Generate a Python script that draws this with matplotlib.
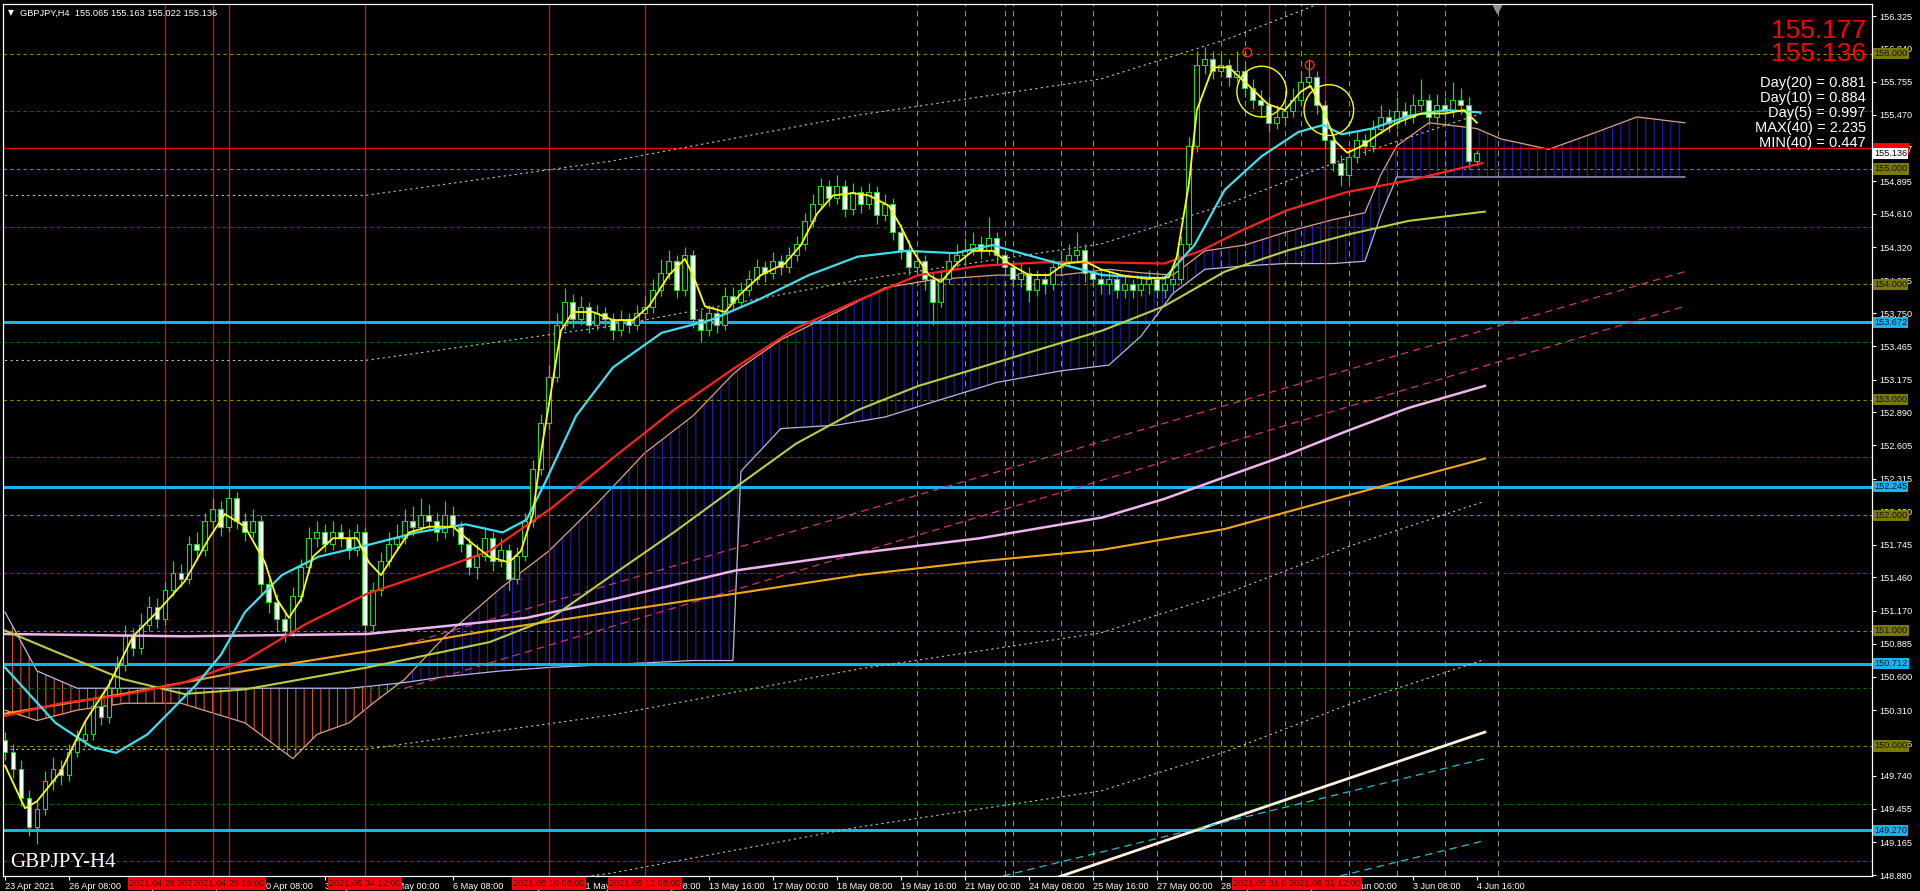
import numpy as np
import matplotlib.pyplot as plt
from matplotlib.patches import Ellipse
import matplotlib.transforms as mtransforms

plt.rcParams['font.family'] = ['Liberation Sans', 'DejaVu Sans']

# ---- H4 bars, 23 Apr 2021 00:00 .. 4 Jun 2021 16:00 (bar index 0..184)
first_open = 150.05
closes = [
    149.95, 149.80, 149.55, 149.30, 149.45, 149.70, 149.80, 149.75, 149.95, 150.05,
    150.10, 150.35, 150.25, 150.50, 150.70, 150.95, 150.85, 151.05, 151.20, 151.10,
    151.35, 151.50, 151.45, 151.75, 151.70, 151.95, 152.05, 151.90, 152.15, 151.95,
    151.85, 151.95, 151.40, 151.25, 151.10, 151.00, 151.30, 151.55, 151.80, 151.85,
    151.75, 151.85, 151.80, 151.70, 151.85, 151.05, 151.35, 151.60, 151.75, 151.80,
    151.95, 151.90, 152.00, 151.95, 151.85, 152.00, 151.90, 151.75, 151.55, 151.65,
    151.80, 151.60, 151.70, 151.45, 151.65, 151.95, 152.40, 152.80, 153.20, 153.65,
    153.85, 153.70, 153.80, 153.65, 153.75, 153.70, 153.60, 153.70, 153.65, 153.75,
    153.80, 153.95, 154.10, 154.20, 153.95, 154.25, 153.70, 153.60, 153.75, 153.65,
    153.90, 153.85, 153.95, 154.05, 154.15, 154.10, 154.20, 154.15, 154.25, 154.35,
    154.55, 154.70, 154.85, 154.75, 154.85, 154.65, 154.80, 154.70, 154.80, 154.60,
    154.70, 154.45, 154.30, 154.15, 154.20, 154.05, 153.85, 154.05, 154.20, 154.25,
    154.30, 154.35, 154.30, 154.40, 154.25, 154.15, 154.05, 154.10, 153.95, 154.05,
    154.00, 154.15, 154.20, 154.25, 154.30, 154.10, 154.05, 154.00, 154.05, 153.95,
    154.00, 153.95, 154.00, 154.05, 153.95, 154.00, 154.05, 154.35, 155.20, 155.90,
    155.95, 155.85, 155.90, 155.80, 155.85, 155.70, 155.60, 155.55, 155.40, 155.45,
    155.50, 155.60, 155.75, 155.80, 155.55, 155.25, 155.05, 154.95, 155.10, 155.25,
    155.20, 155.35, 155.45, 155.40, 155.50, 155.45, 155.55, 155.60, 155.45, 155.55,
    155.50, 155.60, 155.55, 155.065, 155.136,
]
highs = [
    150.12, 150.02, 149.88, 149.62, 149.52, 149.78, 149.90, 149.88, 150.02, 150.14,
    150.22, 150.42, 150.45, 150.58, 150.78, 151.05, 151.02, 151.15, 151.30, 151.28,
    151.42, 151.60, 151.58, 151.82, 151.85, 152.02, 152.15, 152.12, 152.25, 152.20,
    152.02, 152.05, 152.00, 151.48, 151.32, 151.18, 151.38, 151.62, 151.90, 151.95,
    151.92, 151.95, 151.92, 151.88, 151.92, 151.90, 151.42, 151.68, 151.85, 151.92,
    152.05, 152.08, 152.15, 152.10, 152.02, 152.12, 152.08, 151.95, 151.80, 151.75,
    151.90, 151.85, 151.80, 151.75, 151.72, 152.02, 152.48, 152.88, 153.30, 153.75,
    153.97, 153.92, 153.90, 153.85, 153.82, 153.80, 153.75, 153.78, 153.75, 153.82,
    153.90, 154.05, 154.22, 154.30, 154.25, 154.32, 154.30, 153.78, 153.82, 153.80,
    153.98, 153.98, 154.02, 154.12, 154.22, 154.20, 154.28, 154.25, 154.32, 154.42,
    154.62, 154.78, 154.92, 154.90, 154.95, 154.90, 154.88, 154.85, 154.88, 154.85,
    154.78, 154.75, 154.52, 154.38, 154.30, 154.25, 154.10, 154.12, 154.28, 154.35,
    154.40, 154.45, 154.42, 154.58, 154.45, 154.30, 154.20, 154.18, 154.15, 154.12,
    154.10, 154.22, 154.30, 154.35, 154.45, 154.35, 154.15, 154.12, 154.12, 154.10,
    154.08, 154.05, 154.08, 154.12, 154.10, 154.08, 154.12, 154.42, 155.28, 156.02,
    156.06, 156.02, 156.00, 155.95, 156.02, 155.90, 155.78, 155.68, 155.62, 155.55,
    155.60, 155.70, 155.85, 155.95, 155.85, 155.60, 155.30, 155.12, 155.18, 155.32,
    155.30, 155.42, 155.55, 155.52, 155.62, 155.58, 155.65, 155.78, 155.65, 155.65,
    155.62, 155.75, 155.70, 155.62, 155.163,
]
lows = [
    149.88, 149.72, 149.48, 149.22, 149.15, 149.40, 149.62, 149.66, 149.70, 149.90,
    150.00, 150.05, 150.18, 150.20, 150.45, 150.65, 150.78, 150.80, 151.00, 151.02,
    151.05, 151.30, 151.38, 151.40, 151.62, 151.65, 151.88, 151.82, 151.85, 151.88,
    151.78, 151.80, 151.32, 151.15, 151.00, 150.90, 150.95, 151.25, 151.50, 151.72,
    151.68, 151.70, 151.72, 151.62, 151.65, 150.98, 151.00, 151.30, 151.55, 151.70,
    151.75, 151.82, 151.85, 151.88, 151.78, 151.80, 151.82, 151.68, 151.48, 151.45,
    151.60, 151.52, 151.55, 151.35, 151.40, 151.60, 151.90, 152.35, 152.75, 153.15,
    153.60, 153.62, 153.65, 153.58, 153.60, 153.62, 153.52, 153.55, 153.58, 153.60,
    153.70, 153.75, 153.90, 154.05, 153.88, 153.90, 153.62, 153.50, 153.55, 153.58,
    153.60, 153.78, 153.80, 153.90, 154.00, 154.02, 154.05, 154.08, 154.10, 154.20,
    154.30, 154.50, 154.65, 154.68, 154.70, 154.58, 154.60, 154.62, 154.65, 154.52,
    154.55, 154.38, 154.22, 154.08, 154.10, 153.95, 153.65, 153.80, 154.00, 154.15,
    154.18, 154.25, 154.22, 154.25, 154.18, 154.08, 153.98, 153.98, 153.85, 153.90,
    153.92, 153.95, 154.10, 154.15, 154.20, 154.02, 153.98, 153.92, 153.92, 153.88,
    153.88, 153.88, 153.90, 153.92, 153.88, 153.88, 153.92, 154.00, 154.30, 155.15,
    155.82, 155.78, 155.80, 155.72, 155.75, 155.62, 155.52, 155.45, 155.32, 155.35,
    155.38, 155.45, 155.55, 155.70, 155.48, 155.18, 154.98, 154.85, 154.90, 155.05,
    155.12, 155.15, 155.30, 155.32, 155.35, 155.38, 155.40, 155.50, 155.38, 155.40,
    155.42, 155.45, 155.48, 155.00, 155.022,
]

# ---- indicator lines, read as (bar, price) knots
ma_fast_bar = [0, 2.5, 4, 7, 10, 13, 16, 19, 22.5, 25.5, 27.5, 30, 32.5, 34, 35.5, 37, 38.5, 41, 44,
               45.5, 47, 48.5, 50.5, 53, 56, 58.5, 60.5, 63, 64.5, 66, 67, 68.5, 69.5, 71, 73.5, 76,
               78.5, 80.5, 83, 85, 86, 87.5, 90, 92, 94.5, 97.5, 99.5, 101.5, 103.5, 106, 108,
               110.5, 112, 113.5, 115.5, 117, 119, 121, 123.5, 125.5, 128, 130.5, 132.5, 135, 137,
               139.5, 142.5, 145.5, 146.5, 148, 149, 151, 153, 155.5, 157.9, 160, 162, 163.2,
               164.8, 166.3, 167.8, 169.4, 171.7, 174, 177, 180, 182.4, 184]
ma_fast = [149.83, 149.46, 149.52, 149.78, 150.21, 150.53, 150.95, 151.16, 151.43, 151.80, 152.01,
           151.90, 151.59, 151.27, 151.11, 151.27, 151.64, 151.80, 151.80, 151.59, 151.48, 151.64,
           151.85, 151.90, 151.90, 151.75, 151.64, 151.59, 151.69, 152.01, 152.54, 153.17, 153.60,
           153.76, 153.76, 153.69, 153.69, 153.81, 154.08, 154.22, 154.08, 153.81, 153.76, 153.92,
           154.08, 154.18, 154.34, 154.61, 154.77, 154.79, 154.77, 154.68, 154.50, 154.29, 154.08,
           154.02, 154.18, 154.29, 154.29, 154.18, 154.08, 154.08, 154.18, 154.20, 154.13, 154.08,
           154.05, 154.06, 154.24, 154.87, 155.51, 155.88, 155.88, 155.72, 155.56, 155.51, 155.67,
           155.72, 155.51, 155.24, 155.14, 155.19, 155.30, 155.40, 155.48, 155.48, 155.51, 155.40]

ma_mid_bar = [0, 6.3, 10.9, 13.9, 17.8, 20.8, 23.9, 27, 30, 34.6, 39.2, 45.3, 51.5, 57.6, 62.2, 65.2,
              67.5, 71.4, 76, 82.1, 88.2, 94.3, 100.5, 106.6, 112.7, 118.8, 123.4, 129.6, 137.2,
              144.9, 148.7, 152.5, 157.1, 161.7, 164.8, 167.1, 170.9, 175.5, 180.1, 184.4]
ma_mid = [150.68, 150.20, 149.99, 149.94, 150.10, 150.31, 150.53, 150.79, 151.16, 151.48, 151.64,
          151.74, 151.85, 151.92, 151.85, 151.96, 152.28, 152.86, 153.28, 153.58, 153.69, 153.87,
          154.08, 154.24, 154.29, 154.27, 154.34, 154.22, 154.08, 154.05, 154.34, 154.82, 155.11,
          155.32, 155.38, 155.30, 155.35, 155.46, 155.51, 155.49]

ma_red_bar = [0, 7, 14.7, 22.4, 30, 37.7, 45.3, 53, 60.6, 68.3, 75.9, 83.6, 91.3, 98.9, 106.6,
              114.2, 121.9, 129.5, 137.2, 144.9, 149.5, 154.1, 160.2, 167.8, 175.5, 184.7]
ma_red = [150.26, 150.37, 150.44, 150.55, 150.74, 151.06, 151.32, 151.50, 151.69, 152.06, 152.49,
          152.91, 153.28, 153.62, 153.86, 154.08, 154.16, 154.19, 154.19, 154.18, 154.29, 154.45,
          154.64, 154.80, 154.90, 155.05]

ma_olive_bar = [0, 5.5, 14.7, 22.4, 30, 45.3, 60.6, 68.3, 75.9, 83.6, 91.3, 98.9, 106.6, 114.2,
                121.9, 129.5, 137.2, 144.9, 152.5, 160.2, 167.8, 175.5, 185]
ma_olive = [151.00, 150.84, 150.58, 150.45, 150.49, 150.68, 150.90, 151.11, 151.48, 151.85, 152.24,
            152.62, 152.91, 153.12, 153.28, 153.44, 153.60, 153.81, 154.11, 154.29, 154.43, 154.55,
            154.63]

ma_pink_bar = [0, 22.4, 45.3, 65.2, 75.9, 91.3, 106.6, 121.9, 137.2, 144.9, 152.5, 160.2, 167.8,
               175.5, 185]
ma_pink = [150.97, 150.95, 150.97, 151.11, 151.27, 151.52, 151.67, 151.80, 151.98, 152.14, 152.33,
           152.52, 152.73, 152.93, 153.12]

ma_orange_bar = [0, 14.7, 30, 45.3, 60.6, 75.9, 91.3, 106.6, 121.9, 137.2, 152.5, 167.8, 185]
ma_orange = [150.28, 150.45, 150.65, 150.82, 151.00, 151.16, 151.32, 151.48, 151.60, 151.70,
             151.88, 152.17, 152.49]

# ichimoku cloud (span A / span B), projected 26 bars ahead
cloud_bar = [0, 4, 9, 15, 22, 30, 36, 39, 43, 46, 50, 55, 62, 68, 74, 80, 86, 91, 92, 97, 104,
             110, 116, 124, 132, 138, 142, 146, 150, 155, 160, 166, 170, 172, 174, 178, 184, 187,
             193, 199, 204, 210]
span_a = [150.31, 150.22, 150.31, 150.37, 150.37, 150.20, 149.89, 150.10, 150.20, 150.37, 150.58,
          150.95, 151.37, 151.69, 152.10, 152.54, 152.86, 153.22, 153.28, 153.52, 153.76, 153.97,
          154.04, 154.08, 154.08, 154.13, 154.10, 154.08, 154.29, 154.34, 154.45, 154.56, 154.62,
          154.95, 155.20, 155.40, 155.35, 155.26, 155.17, 155.32, 155.45, 155.40]
span_b = [151.16, 150.65, 150.50, 150.50, 150.50, 150.50, 150.50, 150.50, 150.50, 150.52, 150.55,
          150.60, 150.65, 150.68, 150.70, 150.72, 150.74, 150.74, 152.38, 152.75, 152.78, 152.85,
          152.98, 153.15, 153.25, 153.30, 153.55, 153.92, 154.13, 154.16, 154.18, 154.18, 154.20,
          154.60, 154.93, 154.93, 154.93, 154.93, 154.93, 154.93, 154.93, 154.93]

# gray dotted envelopes
env_bar = [0, 45, 76, 107, 137, 153, 168, 185]
env_up2 = [154.77, 154.77, 155.07, 155.47, 155.78, 156.13, 156.53, 156.92]
env_up1 = [153.34, 153.34, 153.64, 154.04, 154.35, 154.70, 155.10, 155.49]
env_dn1 = [149.97, 149.97, 150.27, 150.67, 150.98, 151.33, 151.73, 152.12]
env_dn2 = [148.60, 148.60, 148.90, 149.30, 149.61, 149.96, 150.36, 150.75]

# magenta dashed channel and bottom channel lines (bar, price endpoints)
mag_bar = [50, 210]
mag_up = [150.88, 154.11]
mag_dn = [150.50, 153.81]
low_white_bar = [126, 185]
low_white = [148.73, 150.12]
low_cyan_a_bar = [124.75, 185]
low_cyan_a = [148.873, 149.89]
low_cyan_b_bar = [166.9, 185]
low_cyan_b = [148.873, 149.18]

# horizontal levels
cyan_levels = [153.672, 152.245, 150.712, 149.270]
round_levels = [156.0, 155.0, 154.0, 153.0, 152.0, 151.0, 150.0]
half_levels = [155.5, 154.5, 153.5, 152.5, 151.5, 150.5, 149.5, 149.0]
red_level = 155.177
bid = 155.136

# vertical markers
red_vlines = [20, 26, 28, 45, 68, 80, 158, 165]
red_vlabels = ['2021.04.28 08:00', '2021.04.29 08:00', '2021.04.29 16:00', '2021.05.04 12:00',
               '2021.05.10 08:00', '2021.05.12 08:00', '2021.05.31 08:00', '2021.06.01 12:00']
gray_vlines = [114, 120, 125, 126, 132, 136, 144, 152, 155, 160, 162, 168, 174, 180, 186.6]

# yellow circle objects and red markers
circle_bar = [157.1, 165.5]
circle_price = [155.67, 155.51]
marker_bar = [155.3, 163.1]
marker_price = [156.01, 155.90]

# axis ticks
ytick_vals = [156.325, 156.040, 155.755, 155.470, 155.177, 154.895, 154.610, 154.320, 154.035,
              153.750, 153.465, 153.175, 152.890, 152.605, 152.315, 152.030, 151.745, 151.460,
              151.170, 150.885, 150.600, 150.310, 150.025, 149.740, 149.455, 149.165, 148.880]
xtick_bars = list(range(0, 185, 8))
xtick_labels = ['23 Apr 2021', '26 Apr 08:00', '27 Apr 16:00', '29 Apr 00:00', '30 Apr 08:00',
                '3 May 16:00', '5 May 00:00', '6 May 08:00', '7 May 16:00', '11 May 00:00',
                '12 May 08:00', '13 May 16:00', '17 May 00:00', '18 May 08:00', '19 May 16:00',
                '21 May 00:00', '24 May 08:00', '25 May 16:00', '27 May 00:00', '28 May 08:00',
                '31 May 16:00', '2 Jun 00:00', '3 Jun 08:00', '4 Jun 16:00']

# ---------------------------------------------------------------------------
W, H = 1920, 891
fig = plt.figure(figsize=(W / 100, H / 100), dpi=100)
fig.patch.set_facecolor('black')
ax = fig.add_axes([3 / W, 15 / H, 1869 / W, 872 / H])
ax.set_facecolor('black')
ax.set_xlim(-0.25, 233.4)
ax.set_ylim(148.873, 156.429)

# cloud hatching
cb = np.array(cloud_bar, float)
sa = np.array(span_a)
sb = np.array(span_b)
plt.rcParams['hatch.linewidth'] = 0.8
ax.fill_between(cb, sa, sb, where=sa >= sb, interpolate=True, facecolor='none',
                edgecolor='#1e1eb4', hatch='||', linewidth=0, zorder=1)
ax.fill_between(cb, sa, sb, where=sa < sb, interpolate=True, facecolor='none',
                edgecolor='#d2502a', hatch='||', linewidth=0, zorder=1)
ax.plot(cb, sa, color='#e0a080', lw=0.9, zorder=1.2)
ax.plot(cb, sb, color='#b8b8e8', lw=0.9, zorder=1.2)

# level lines
for lv in round_levels:
    ax.axhline(lv, color='#8c8c00', lw=0.8, ls=(0, (3, 3)), zorder=1.1)
for lv in half_levels:
    ax.axhline(lv, color='#006e00', lw=0.8, ls=(0, (3, 3)), zorder=1.1)
for gx in gray_vlines:
    ax.axvline(gx, color='#8a8a8a', lw=0.8, ls=(0, (5, 4)), zorder=1.1)
for rx in red_vlines:
    ax.axvline(rx, color='#ff0000', lw=0.9, zorder=1.3)
for lv in cyan_levels:
    ax.axhline(lv, color='#14b4ec', lw=2.2, zorder=1.4)
ax.axhline(red_level, color='#ff0000', lw=0.9, zorder=1.4)

# envelopes and channels
for env in (env_up2, env_up1, env_dn1, env_dn2):
    ax.plot(env_bar, env, color='#bfbfbf', lw=0.8, ls=(0, (2, 3)), zorder=1.5)
ax.plot(mag_bar, mag_up, color='#d0307a', lw=0.9, ls=(0, (6, 4)), zorder=1.5)
ax.plot(mag_bar, mag_dn, color='#d0307a', lw=0.9, ls=(0, (6, 4)), zorder=1.5)
ax.plot(low_white_bar, low_white, color='#fff0e0', lw=2.0, zorder=1.6)
ax.plot(low_cyan_a_bar, low_cyan_a, color='#20c0d0', lw=0.9, ls=(0, (6, 4)), zorder=1.6)
ax.plot(low_cyan_b_bar, low_cyan_b, color='#20c0d0', lw=0.9, ls=(0, (6, 4)), zorder=1.6)

# candles
c = np.array(closes)
o = np.concatenate([[first_open], c[:-1]])
idx = np.arange(len(c))
up = c >= o
green = '#2fd02f'
ax.vlines(idx, lows, highs, color=green, lw=0.9, zorder=2)
body = np.maximum(np.abs(c - o), 0.006)
ax.bar(idx[up], body[up], bottom=np.minimum(o, c)[up], width=0.62, color='black',
       edgecolor=green, linewidth=0.8, zorder=2.1)
ax.bar(idx[~up], body[~up], bottom=np.minimum(o, c)[~up], width=0.62, color='white',
       edgecolor=green, linewidth=0.8, zorder=2.1)

# moving averages
ax.plot(ma_orange_bar, ma_orange, color='#f0a818', lw=1.5, zorder=3)
ax.plot(ma_pink_bar, ma_pink, color='#f0b4f0', lw=1.8, zorder=3)
ax.plot(ma_olive_bar, ma_olive, color='#b8d040', lw=1.5, zorder=3)
ax.plot(ma_red_bar, ma_red, color='#ff2020', lw=1.6, zorder=3)
ax.plot(ma_mid_bar, ma_mid, color='#3ce0f0', lw=1.6, zorder=3)
ax.plot(ma_fast_bar, ma_fast, color='#ffff00', lw=1.3, zorder=3.1)

for bx, py in zip(circle_bar, circle_price):
    ax.add_patch(Ellipse((bx, py), 6.2, 0.44, fill=False, edgecolor='#ffff00', lw=1.0, zorder=3.2))
ax.scatter(marker_bar, marker_price, s=40, facecolors='none', edgecolors='#ff2020', lw=1.0,
           zorder=3.2)

# axes styling
for sp in ax.spines.values():
    sp.set_color('white')
    sp.set_linewidth(0.9)
ax.yaxis.tick_right()
ax.set_yticks(ytick_vals)
ax.set_yticklabels([f'{v:.3f}' for v in ytick_vals])
ax.tick_params(axis='y', colors='white', labelcolor='white', labelsize=6.6, length=3, width=0.8,
               pad=2, direction='out')
ax.set_xticks(xtick_bars)
ax.set_xticklabels(xtick_labels)
for lab in ax.get_xticklabels():
    lab.set_horizontalalignment('left')
ax.tick_params(axis='x', colors='white', labelcolor='white', labelsize=6.6, length=3, width=0.8,
               pad=1.5, direction='out')

ytrans = mtransforms.blended_transform_factory(ax.transAxes, ax.transData)
xtrans = mtransforms.blended_transform_factory(ax.transData, ax.transAxes)


def price_box(val, fc, tc):
    ax.text(1.0012, val, f'{val:.3f}', transform=ytrans, ha='left', va='center', fontsize=6.6,
            color=tc, clip_on=False, zorder=10,
            bbox=dict(boxstyle='square,pad=0.12', fc=fc, ec='none'))


for lv in round_levels:
    price_box(lv, '#7a7a00', '#101000')
for lv in cyan_levels:
    price_box(lv, '#14b4ec', '#001028')
price_box(red_level, '#ff0000', '#ff0000')
price_box(bid, 'white', 'black')

for rx, lab in zip(red_vlines, red_vlabels):
    ax.text(rx, -0.0035, lab, transform=xtrans, ha='center', va='top', fontsize=6.6,
            color='#3a0000', clip_on=False, zorder=10,
            bbox=dict(boxstyle='square,pad=0.18', fc='#ff0000', ec='none'))

ax.plot([186.5], [0.994], transform=xtrans, marker='v', color='#909090', ms=6, clip_on=False,
        zorder=10)

# texts
fig.text(8 / W, 1 - 13 / H, '\u25bc', color='white', fontsize=5.5, va='center',
         family=['DejaVu Sans'])
fig.text(20 / W, 1 - 13 / H, 'GBPJPY,H4  155.065 155.163 155.022 155.136', color='white',
         fontsize=6.7, va='center')
fig.text(10 / W, 1 - 867 / H, 'GBPJPY-H4', color='white', fontsize=15, va='baseline',
         family=['Liberation Serif'])
fig.text(1866 / W, 1 - 31 / H, '155.177', color='#ff0000', fontsize=19, ha='right', va='center')
fig.text(1866 / W, 1 - 54 / H, '155.136', color='#ff0000', fontsize=19, ha='right', va='center')
stats = ['Day(20) = 0.881', 'Day(10) = 0.884', 'Day(5) = 0.997', 'MAX(40) = 2.235',
         'MIN(40) = 0.447']
for k, s in enumerate(stats):
    fig.text(1866 / W, 1 - (83 + 15 * k) / H, s, color='white', fontsize=10.5, ha='right',
             va='center')

fig.savefig('out.png', dpi=100, facecolor='black')
plt.close(fig)
